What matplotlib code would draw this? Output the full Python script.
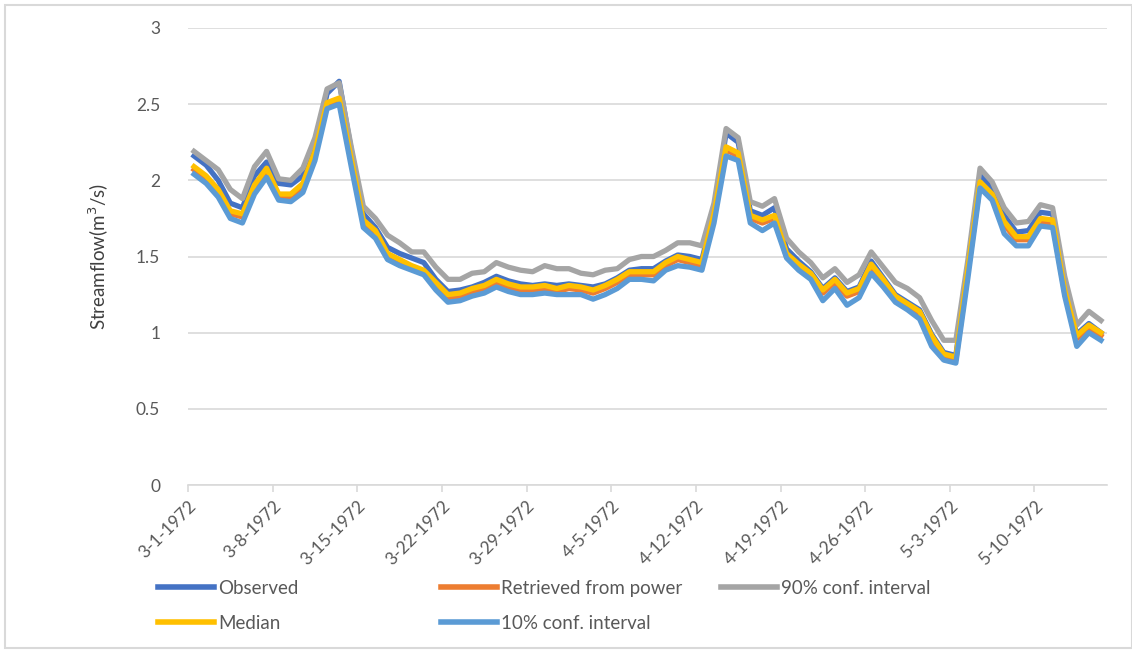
import matplotlib.pyplot as plt
from matplotlib.patches import Rectangle

plt.rcParams['font.family'] = ['Lato', 'DejaVu Sans']

# dati giornalieri 3-1-1972 .. 5-15-1972
dates = ['3-1-1972', '3-8-1972', '3-15-1972', '3-22-1972', '3-29-1972', '4-5-1972',
         '4-12-1972', '4-19-1972', '4-26-1972', '5-3-1972', '5-10-1972']

conf90 = [2.19, 2.13, 2.07, 1.94, 1.88, 2.09, 2.19, 2.01, 2.00, 2.08,
          2.28, 2.60, 2.64, 2.22, 1.83, 1.75, 1.64, 1.59, 1.53, 1.53,
          1.43, 1.35, 1.35, 1.39, 1.40, 1.46, 1.43, 1.41, 1.40, 1.44,
          1.42, 1.42, 1.39, 1.38, 1.41, 1.42, 1.48, 1.50, 1.50, 1.54,
          1.59, 1.59, 1.57, 1.85, 2.34, 2.28, 1.86, 1.83, 1.88, 1.62,
          1.53, 1.46, 1.36, 1.42, 1.33, 1.38, 1.53, 1.43, 1.33, 1.29,
          1.23, 1.08, 0.95, 0.95, 1.48, 2.08, 1.99, 1.82, 1.72, 1.73,
          1.84, 1.82, 1.37, 1.05, 1.14, 1.08]

observed = [2.16, 2.10, 2.00, 1.85, 1.82, 2.03, 2.12, 1.98, 1.97, 2.03,
            2.20, 2.57, 2.65, 2.20, 1.78, 1.69, 1.56, 1.52, 1.49, 1.46,
            1.35, 1.27, 1.28, 1.30, 1.33, 1.37, 1.34, 1.32, 1.31, 1.32,
            1.31, 1.32, 1.31, 1.30, 1.32, 1.36, 1.41, 1.42, 1.42, 1.47,
            1.51, 1.50, 1.48, 1.80, 2.31, 2.25, 1.80, 1.77, 1.82, 1.55,
            1.47, 1.40, 1.29, 1.36, 1.27, 1.30, 1.47, 1.36, 1.25, 1.20,
            1.15, 0.99, 0.87, 0.85, 1.44, 2.04, 1.95, 1.77, 1.66, 1.67,
            1.79, 1.78, 1.30, 0.99, 1.06, 1.00]

median = [2.09, 2.03, 1.94, 1.80, 1.78, 1.97, 2.08, 1.91, 1.91, 1.98,
          2.19, 2.51, 2.54, 2.14, 1.74, 1.67, 1.52, 1.48, 1.44, 1.41,
          1.33, 1.25, 1.26, 1.29, 1.31, 1.35, 1.32, 1.30, 1.30, 1.31,
          1.29, 1.31, 1.30, 1.28, 1.31, 1.35, 1.40, 1.40, 1.40, 1.46,
          1.50, 1.48, 1.46, 1.78, 2.22, 2.18, 1.77, 1.74, 1.77, 1.52,
          1.45, 1.39, 1.28, 1.35, 1.26, 1.29, 1.45, 1.35, 1.24, 1.19,
          1.14, 0.98, 0.86, 0.84, 1.42, 1.99, 1.91, 1.73, 1.63, 1.63,
          1.75, 1.74, 1.28, 0.98, 1.05, 1.00]

retrieved = [2.07, 2.01, 1.92, 1.78, 1.76, 1.95, 2.06, 1.89, 1.89, 1.96,
             2.17, 2.50, 2.53, 2.12, 1.72, 1.65, 1.50, 1.46, 1.42, 1.39,
             1.31, 1.23, 1.24, 1.27, 1.29, 1.33, 1.30, 1.28, 1.28, 1.29,
             1.27, 1.29, 1.28, 1.26, 1.29, 1.33, 1.38, 1.38, 1.38, 1.44,
             1.48, 1.46, 1.44, 1.76, 2.20, 2.16, 1.75, 1.72, 1.75, 1.50,
             1.43, 1.37, 1.26, 1.33, 1.24, 1.27, 1.43, 1.33, 1.22, 1.17,
             1.12, 0.96, 0.84, 0.82, 1.40, 1.97, 1.89, 1.71, 1.61, 1.61,
             1.73, 1.72, 1.26, 0.96, 1.03, 0.98]

conf10 = [2.04, 1.98, 1.89, 1.75, 1.72, 1.91, 2.02, 1.87, 1.86, 1.92,
          2.13, 2.47, 2.50, 2.09, 1.69, 1.62, 1.48, 1.44, 1.41, 1.38,
          1.28, 1.20, 1.21, 1.24, 1.26, 1.30, 1.27, 1.25, 1.25, 1.26,
          1.25, 1.25, 1.25, 1.22, 1.25, 1.29, 1.35, 1.35, 1.34, 1.41,
          1.44, 1.43, 1.41, 1.72, 2.16, 2.13, 1.72, 1.67, 1.72, 1.49,
          1.41, 1.35, 1.21, 1.29, 1.18, 1.23, 1.39, 1.30, 1.20, 1.15,
          1.09, 0.91, 0.82, 0.80, 1.36, 1.95, 1.87, 1.65, 1.57, 1.57,
          1.70, 1.69, 1.24, 0.91, 1.00, 0.95]

W, H = 1132, 651
fig = plt.figure(figsize=(W / 100, H / 100), dpi=100)
ax = fig.add_axes([188 / W, 1 - 485 / H, (1107 - 188) / W, (485 - 28) / H])

x = list(range(len(median)))
lw = 3.8
l_obs, = ax.plot(x, observed, color='#4472C4', lw=lw, label='Observed')
l_ret, = ax.plot(x, retrieved, color='#ED7D31', lw=lw, label='Retrieved from power')
l_90, = ax.plot(x, conf90, color='#A5A5A5', lw=lw, label='90% conf. interval')
l_med, = ax.plot(x, median, color='#FFC000', lw=lw, label='Median')
l_10, = ax.plot(x, conf10, color='#5B9BD5', lw=lw, label='10% conf. interval')

# assi
ax.set_xlim(-0.5, len(median) - 0.5)
ax.set_ylim(0, 3)
ax.set_yticks([0, 0.5, 1, 1.5, 2, 2.5, 3])
ax.set_yticklabels(['0', '0.5', '1', '1.5', '2', '2.5', '3'])
ax.grid(axis='y', color='#D9D9D9', lw=1.2)
ax.set_axisbelow(True)
for s in ['left', 'right', 'top']:
    ax.spines[s].set_visible(False)
ax.spines['bottom'].set_color('#D9D9D9')
ax.spines['bottom'].set_linewidth(1.2)

tick_pos = [-0.5 + 7 * k for k in range(len(dates))]
ax.set_xticks(tick_pos)
ax.set_xticklabels(dates, rotation=45, ha='right', rotation_mode='anchor')
ax.tick_params(axis='x', colors='#595959', labelsize=12.5, length=5, width=1.2,
               color='#D9D9D9', pad=4)
ax.tick_params(axis='y', colors='#595959', labelsize=12.5, length=0, pad=20)
ax.set_ylabel('Streamflow(m$^3$/s)', fontsize=13.5, color='#404040', labelpad=18)

# legenda a colonne fisse
cols = [([l_obs, l_med], 158), ([l_ret, l_10], 441), ([l_90], 721)]
for hs, xl in cols:
    leg = fig.legend(handles=hs, loc='upper left', bbox_to_anchor=(xl / W, 1 - 580 / H),
                     frameon=False, fontsize=13.5, handlelength=3.0, handletextpad=0.2,
                     labelspacing=0.95, borderaxespad=0, borderpad=0)
    for t in leg.get_texts():
        t.set_color('#595959')
    for ln in leg.get_lines():
        ln.set_linewidth(4)

# bordo area grafico
fig.patches.append(Rectangle((5 / W, 3 / H), 1 - 5 / W, 1 - 8 / H, transform=fig.transFigure,
                             fill=False, edgecolor='#D9D9D9', lw=1.5))

fig.savefig('out.png', dpi=100)
